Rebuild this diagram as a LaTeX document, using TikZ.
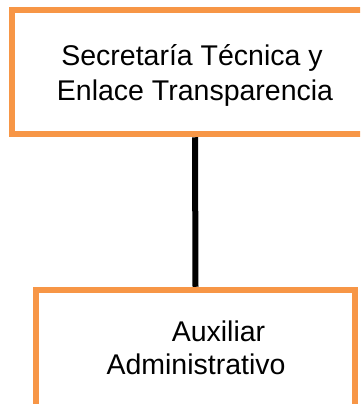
\documentclass[tikz,border=0pt]{standalone}
\usepackage{fontspec}
\setmainfont{Liberation Sans}
\definecolor{boxorange}{HTML}{F79646}
\begin{document}
\begin{tikzpicture}[x=1pt,y=1pt,
  orgbox/.style={draw=boxorange, line width=6.5pt, fill=white, rectangle, inner sep=0pt},
  txt/.style={font=\fontsize{28.5}{34}\selectfont, inner sep=0pt, anchor=base, text=black},
  link/.style={draw=black, line width=6pt}]
\clip (0,0) rectangle (360,-404);
\fill[white] (0,0) rectangle (360,-404);
\node[orgbox, minimum width=366pt, minimum height=124pt] (top) at (195,-72) {};
\node[orgbox, minimum width=319pt, minimum height=130pt] (bot) at (195.5,-355) {};
\draw[link] (top.south) -- (bot.north);
\node[txt] (t1) at (192,-66) {Secretaría Técnica y};
\node[txt] (t2) at (195,-100) {Enlace Transparencia};
\node[txt] (b1) at (218.5,-341) {Auxiliar};
\node[txt] (b2) at (196,-374) {Administrativo};
\end{tikzpicture}
\end{document}
